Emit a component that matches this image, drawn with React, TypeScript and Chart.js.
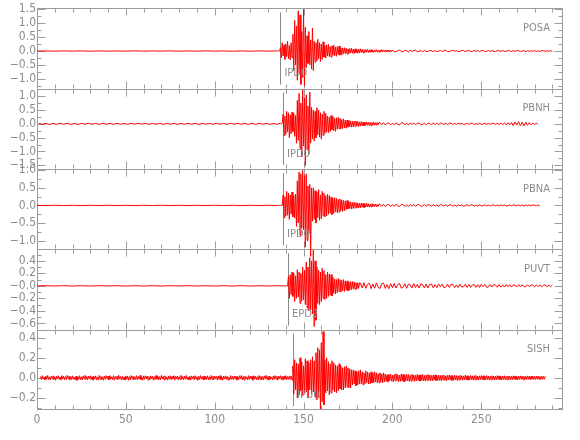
import { useEffect, useRef } from 'react';
import { Chart, registerables } from 'chart.js';

Chart.register(...registerables);

const stations = ['POSA', 'PBNH', 'PBNA', 'PUVT', 'SISH'];
const phaseLabels = ['IPD0', 'IPD0', 'IPD0', 'EPD2', 'IPU0'];
const pickTimes = [137.0, 138.5, 138.5, 141.3, 144.1];

const xMin = 0;
const xMax = 296;
const xTicks = [0, 50, 100, 150, 200, 250];
const xMinorStep = 10;

const yMins = [-1.35, -1.63, -1.25, -0.7, -0.32];
const yMaxs = [1.54, 1.275, 1.04, 0.585, 0.48];
const yTickValues = [
  [-1, -0.5, 0, 0.5, 1, 1.5],
  [-1.5, -1, -0.5, 0, 0.5, 1],
  [-1, -0.5, 0, 0.5, 1],
  [-0.6, -0.4, -0.2, 0, 0.2, 0.4],
  [-0.2, 0, 0.2, 0.4],
];
const yTickLabels = [
  ['\u22121.0', '\u22120.5', '0.0', '0.5', '1.0', '1.5'],
  ['\u22121.5', '\u22121.0', '\u22120.5', '0.0', '0.5', '1.0'],
  ['\u22121.0', '\u22120.5', '0.0', '0.5', '1.0'],
  ['\u22120.6', '\u22120.4', '\u22120.2', '\u22120.0', '0.2', '0.4'],
  ['\u22120.2', '0.0', '0.2', '0.4'],
];
const yMinorSteps = [0.25, 0.25, 0.25, 0.1, 0.1];

// ---------- POSA ----------
const posaPre = [0, 0.004, -0.005, 0.006, -0.004, 0.005, -0.006, 0.004, -0.005, 0.003, -0.004, 0.006, -0.005, 0.004, -0.003, 0.005, -0.006, 0.004, -0.005, 0.006, -0.004, 0.003, -0.005, 0.004, -0.006, 0.005, -0.004, 0.005];
const posaMain = [
  0.005, -0.004, 0.006,
  0.12, -0.25, 0.3, -0.18, 0.22, -0.3, 0.26, -0.2, 0.35, -0.28, 0.2, -0.32, 0.3, -0.24,
  0.6, -0.7, 1.1, -0.5, 0.9, -1.05, 1.45, -0.8, 1.3, -1.2, 0.7, -0.95, 1.5, -1.25, 0.85,
  -0.6, 0.55, -0.45, 0.7, -0.5, 0.4, -0.65, 0.83, -0.7,
  0.35, -0.4, 0.3, -0.35, 0.42, -0.28, 0.3, -0.38, 0.25, -0.3, 0.33, -0.22,
  0.2, -0.25, 0.22, -0.18, 0.24, -0.2, 0.16, -0.22, 0.19, -0.15, 0.21, -0.17, 0.14, -0.19, 0.16, -0.13, 0.18, -0.15, 0.12, -0.14,
  0.11, -0.1, 0.12, -0.09, 0.1, -0.11, 0.08, -0.1, 0.09, -0.07, 0.1, -0.08, 0.07, -0.09, 0.08, -0.06, 0.07, -0.08, 0.06, -0.07, 0.08, -0.05, 0.06, -0.07,
  0.05, -0.06, 0.05, -0.04, 0.06, -0.05, 0.04, -0.05, 0.05, -0.04, 0.03, -0.05, 0.04, -0.03, 0.05, -0.04, 0.03, -0.04, 0.04, -0.03, 0.05, -0.03, 0.04, -0.03, 0.03, -0.04, 0.03, -0.02, 0.04, -0.03, 0.03, -0.03,
];
const posaCoda = [
  0.03, -0.02, -0.028, 0.015, 0.03, -0.01, -0.025, 0.02, 0.012, -0.03, 0.025, -0.015, 0.02, 0.028, -0.022, -0.01, 0.018, -0.026, 0.024, -0.012,
  -0.02, 0.022, 0.01, -0.024, 0.02, -0.018, -0.008, 0.025, -0.02, 0.015, 0.022, -0.016, -0.024, 0.012, 0.02, -0.01, 0.018, -0.022, -0.012, 0.02,
  0.016, -0.02, 0.008, 0.022, -0.018, -0.015, 0.02, -0.01, 0.017, -0.021, 0.012, 0.018, -0.016, -0.01, 0.02, -0.018, 0.015, -0.008, -0.02, 0.016,
  0.01, -0.018, 0.02, -0.012, -0.016, 0.018, 0.008, -0.02, 0.015, -0.014, 0.01, 0.017, -0.015, -0.008, 0.016, -0.018, 0.012, -0.01, 0.014, -0.016,
  0.018, -0.012, 0.008, -0.015, 0.014, 0.01, -0.016, 0.012, -0.008, 0.015, -0.012,
];

// ---------- PBNH ----------
const pbnhPre = [
  0.02, -0.015, 0.018, -0.022, 0.012, -0.017, 0.021, -0.014, 0.016, -0.019, 0.013, -0.02, 0.017, -0.012, 0.019, -0.016, 0.014, -0.021, 0.018, -0.013,
  0.015, -0.018, 0.02, -0.014, 0.012, -0.017, 0.019, -0.015, 0.021, -0.012, 0.016, -0.019, 0.013, -0.016, 0.018, -0.02, 0.014, -0.013, 0.017, -0.018,
  0.012, -0.016, 0.02, -0.014, 0.015, -0.021, 0.018, -0.012, 0.016, -0.017, 0.019, -0.015, 0.013, -0.019, 0.021, -0.014, 0.017, -0.016, 0.012, -0.018,
  0.015, -0.02, 0.018, -0.013, 0.016, -0.019, 0.014, -0.017, 0.02,
];
const pbnhMain = [
  -0.01, 0.015,
  0.35, -0.42, 0.28, -0.38, 0.45, -0.3, 0.4, -0.5, 0.33, -0.36, 0.42, -0.28, 0.38, -0.45, 0.3,
  -0.7, 0.85, -0.6, 1.1, -0.9, 0.75, -1.2, 1.23, -0.8, 0.95, -1.51, 1.05, -0.9, 0.65, -1.1, 1.15, -0.7, 0.6,
  -0.55, 0.5, -0.62, 0.45, -0.5, 0.58, -0.4, 0.5, -0.48, 0.4, -0.55, 0.35, -0.42, 0.45, -0.35, 0.38,
  -0.3, 0.28, -0.32, 0.25, -0.28, 0.3, -0.22, 0.26, -0.25, 0.2, -0.27, 0.22, -0.2, 0.23, -0.18, 0.2, -0.19, 0.16, -0.17, 0.18, -0.15, 0.14, -0.16, 0.13,
  -0.12, 0.13, -0.11, 0.1, -0.12, 0.09, -0.11, 0.1, -0.09, 0.1, -0.08, 0.09, -0.1, 0.07, -0.08, 0.08, -0.07, 0.06, -0.08, 0.07, -0.06, 0.07, -0.05, 0.06, -0.06, 0.05, -0.07, 0.05, -0.05, 0.06, -0.05, 0.04, -0.05, 0.05, -0.04, 0.05,
];
const pbnhCoda = [
  0.045, -0.03, 0.04, -0.045, 0.02, 0.038, -0.04, 0.025, -0.035, 0.042, -0.02, -0.038, 0.03, 0.04, -0.035, 0.015, -0.04, 0.032, -0.028, 0.035,
  -0.03, 0.02, 0.034, -0.032, -0.02, 0.03, -0.035, 0.025, 0.012, -0.03, 0.032, -0.025, 0.02, -0.03, 0.028, 0.015, -0.028, 0.025, -0.03, 0.02,
  0.025, -0.028, 0.015, -0.025, 0.028, -0.012, 0.024, -0.026, -0.015, 0.025, -0.02, 0.022, 0.018, -0.025, 0.012, -0.022, 0.024, -0.018, -0.01, 0.022,
  -0.02, 0.018, -0.022, 0.012, 0.02, -0.02, 0.015, -0.022, 0.025, -0.03, 0.028, -0.035, 0.04, -0.032,
  0.05, -0.065, 0.07, -0.04, 0.075, -0.07, 0.055, -0.08, 0.06, -0.05, 0.045,
  -0.035, 0.025, -0.02, 0.018, -0.015,
];

// ---------- PBNA ----------
const pbnaPre = [0, -0.004, 0.005, -0.003, 0.004, -0.005, 0.003, -0.004, 0.005, -0.004, 0.003, -0.005, 0.004, -0.003, 0.005, -0.004, 0.004, -0.005, 0.003, -0.004, 0.005, -0.003, 0.004, -0.005, 0.004, -0.003, 0.005, -0.004];
const pbnaMain = [
  0.004, -0.005, 0.003, -0.004, 0.005, -0.006,
  0.3, -0.35, 0.25, -0.3, 0.4, -0.28, 0.35, -0.4, 0.3, -0.25, 0.38, -0.33, 0.28, -0.36, 0.32,
  -0.6, 0.7, -0.5, 0.95, -0.85, 0.9, -0.65, 1.0, -0.7, 0.85, -1.19, 0.9, -1.0, 0.55, -0.8, 0.6, -1.45, 0.5,
  -0.45, 0.5, -0.4, 0.42, -0.5, 0.38, -0.35, 0.45, -0.42, 0.3, -0.38, 0.4, -0.3, 0.35, -0.33, 0.28, -0.3, 0.32,
  -0.25, 0.28, -0.22, 0.24, -0.26, 0.2, -0.23, 0.22, -0.18, 0.2, -0.21, 0.17, -0.19, 0.18, -0.15, 0.16, -0.17, 0.14, -0.15, 0.13, -0.12, 0.14,
  -0.1, 0.11, -0.09, 0.1, -0.1, 0.08, -0.09, 0.09, -0.07, 0.08, -0.08, 0.07, -0.07, 0.06, -0.07, 0.07, -0.05, 0.06, -0.06, 0.05, -0.05, 0.06, -0.04, 0.05, -0.05, 0.04, -0.04, 0.05, -0.04, 0.04, -0.03, 0.04, -0.04, 0.03, -0.03, 0.04,
];
const pbnaCoda = [
  0.035, -0.025, 0.03, -0.035, 0.015, 0.03, -0.032, 0.02, -0.028, 0.034, -0.015, -0.03, 0.025, 0.03, -0.028, 0.012, -0.032, 0.026, -0.022, 0.028,
  -0.024, 0.016, 0.027, -0.026, -0.016, 0.024, -0.028, 0.02, 0.01, -0.024, 0.026, -0.02, 0.016, -0.024, 0.022, 0.012, -0.022, 0.02, -0.024, 0.016,
  0.02, -0.022, 0.012, -0.02, 0.022, -0.01, 0.019, -0.021, -0.012, 0.02, -0.016, 0.018, 0.014, -0.02, 0.01, -0.018, 0.019, -0.014, -0.008, 0.018,
  -0.016, 0.014, -0.018, 0.01, 0.016, -0.016, 0.012, -0.018, 0.015, -0.008, 0.017, -0.016, -0.012, 0.016, -0.012, 0.015, 0.008, -0.016, 0.014, -0.015,
  0.012, -0.014, 0.015, -0.01, 0.014, -0.015, 0.012, 0.008, -0.014, 0.015, -0.012,
];

// ---------- PUVT ----------
const puvtPre = [0, 0.003, -0.002, 0.003, -0.003, 0.002, -0.003, 0.003, -0.002, 0.003, -0.003, 0.002, -0.003, 0.002, -0.003, 0.003, -0.002, 0.003, -0.003, 0.002, -0.003, 0.003, -0.002, 0.003, -0.003, 0.002, -0.003, 0.003, -0.003];
const puvtMain = [
  0.003, -0.004,
  0.15, -0.2, 0.18, -0.14, 0.22, -0.17, 0.2, -0.25, 0.16, -0.2, 0.26, -0.18, 0.22, -0.28, 0.2, -0.24, 0.3, -0.22, 0.25,
  -0.3, 0.38, -0.35, 0.3, -0.4, 0.45, -0.38, 0.4, -0.45, 0.57, -0.65, 0.4, -0.55, 0.3,
  -0.28, 0.25, -0.3, 0.22, -0.25, 0.28, -0.2, 0.24, -0.22, 0.18, -0.2, 0.22, -0.17, 0.19, -0.15, 0.18, -0.16, 0.14,
  -0.12, 0.11, -0.13, 0.1, -0.11, 0.12, -0.09, 0.1, -0.1, 0.09, -0.08, 0.1, -0.09, 0.08, -0.07, 0.08, -0.08, 0.06, -0.07, 0.07, -0.06, 0.07, -0.05, 0.06, -0.06, 0.05, -0.05, 0.05, -0.04, 0.05,
];
const puvtCoda = [
  0.045, -0.035, 0.05, -0.04, 0.025, 0.042, -0.045, 0.03, -0.038, 0.048, -0.025, -0.042, 0.035, 0.044, -0.04, 0.02, -0.045, 0.036, -0.03, 0.04,
  -0.035, 0.022, 0.038, -0.036, -0.024, 0.034, -0.04, 0.028, 0.015, -0.034, 0.036, -0.028, 0.022, -0.034, 0.032, 0.018, -0.032, 0.028, -0.034, 0.024,
  0.03, -0.032, 0.018, -0.03, 0.032, -0.015, 0.028, -0.03, -0.018, 0.028, -0.024, 0.026, 0.02, -0.028, 0.015, -0.026, 0.027, -0.02, -0.012, 0.026,
  -0.024, 0.022, -0.026, 0.014, 0.024, -0.024, 0.018, -0.025, 0.022, -0.012, 0.024, -0.022, -0.018, 0.023, -0.018, 0.021, 0.012, -0.022, 0.02, -0.021,
  0.016, -0.02, 0.021, -0.014, 0.019, -0.02, 0.016, 0.01, -0.018, 0.02, -0.016, 0.018, -0.012, -0.016, 0.018, -0.014, 0.016, 0.008, -0.016, 0.017,
  -0.012, 0.014, -0.016, 0.01, 0.015, -0.014, 0.012, -0.015, 0.013,
];

// ---------- SISH ----------
const sishPre = [
  0.015, -0.018, 0.022, -0.01, 0.008, -0.02, 0.018, -0.014, 0.024, -0.016, 0.01, -0.022, 0.016, -0.008, 0.02, -0.019, 0.012, -0.024, 0.018, -0.011,
  0.021, -0.015, 0.009, -0.02, 0.023, -0.012, 0.016, -0.021, 0.011, -0.017, 0.024, -0.009, 0.018, -0.023, 0.014, -0.016, 0.02, -0.013, 0.008, -0.021,
  0.017, -0.024, 0.012, -0.015, 0.022, -0.018, 0.01, -0.02, 0.019, -0.011, 0.025, -0.016, 0.013, -0.022, 0.018, -0.009, 0.021, -0.017, 0.012, -0.023,
  0.016, -0.012, 0.02, -0.019, 0.009, -0.022, 0.024, -0.014, 0.015, -0.018, 0.011, -0.024, 0.019, -0.013, 0.022, -0.01, 0.017, -0.02, 0.023, -0.015,
  0.01, -0.017, 0.021, -0.023, 0.014, -0.011, 0.018, -0.02, 0.025, -0.012, 0.013, -0.021, 0.016, -0.018, 0.009, -0.022, 0.02, -0.014, 0.018, -0.024,
  0.012, -0.019, 0.023, -0.01, 0.017, -0.021, 0.011, -0.016, 0.022, -0.02, 0.014, -0.012, 0.024, -0.018, 0.01, -0.023, 0.019, -0.015, 0.021, -0.011,
  0.018, -0.022, 0.013, -0.019, 0.02, -0.009, 0.016, -0.024, 0.012, -0.017, 0.023, -0.014, 0.019, -0.02, 0.011, -0.018, 0.024, -0.012, 0.015, -0.021,
  0.02, -0.016, 0.01, -0.023, 0.017, -0.013, 0.022, -0.019, 0.014, -0.011, 0.021, -0.024, 0.016, -0.01, 0.019, -0.02, 0.012, -0.017, 0.025, -0.014,
  0.013, -0.021, 0.018, -0.012, 0.024, -0.016, 0.009, -0.02, 0.015, -0.023, 0.02, -0.011, 0.017, -0.019, 0.022, -0.013, 0.011, -0.024, 0.016, -0.018,
  0.023, -0.01, 0.014, -0.022, 0.019, -0.017, 0.012, -0.015, 0.021, -0.02, 0.01, -0.019, 0.024, -0.013, 0.016, -0.021, 0.018, -0.011, 0.013, -0.022,
  0.019, -0.014, 0.022, -0.018, 0.011, -0.024, 0.017, -0.012, 0.02, -0.016, 0.015, -0.021, 0.009, -0.019, 0.023, -0.015, 0.014, -0.02, 0.018, -0.01,
  0.016, -0.023, 0.012, -0.017, 0.021, -0.011, 0.024, -0.019, 0.013, -0.022, 0.018, -0.014, 0.01, -0.02, 0.022, -0.016, 0.019, -0.012, 0.015, -0.024,
  0.021, -0.013, 0.017, -0.02, 0.011, -0.018, 0.023, -0.015, 0.016, -0.021, 0.012, -0.019, 0.02, -0.01, 0.024, -0.017, 0.013, -0.022, 0.018, -0.014,
  0.01, -0.02, 0.019, -0.016, 0.022, -0.012, 0.015, -0.023, 0.018, -0.011, 0.021, -0.018, 0.014, -0.024, 0.017, -0.013, 0.023, -0.019, 0.012, -0.016,
  0.02, -0.015, 0.018, -0.022,
];
const sishMain = [
  0.12, -0.16, 0.18, -0.12, 0.15, -0.2, 0.14, -0.17, 0.2, -0.13, 0.16, -0.18, 0.12, -0.15, 0.19, -0.14, 0.17, -0.2, 0.15, -0.12, 0.18, -0.16, 0.21, -0.14, 0.17, -0.19,
  0.25, -0.22, 0.3, -0.2, 0.28, -0.31, 0.35, -0.24, 0.46, -0.27,
  0.18, -0.15, 0.2, -0.13, 0.16, -0.17, 0.14, -0.15, 0.17, -0.12, 0.15, -0.14, 0.13, -0.15, 0.12, -0.13, 0.14, -0.11, 0.12, -0.12, 0.1, -0.12, 0.11, -0.1, 0.12, -0.09, 0.1, -0.1, 0.09, -0.1,
  0.08, -0.07, 0.08, -0.06, 0.07, -0.08, 0.06, -0.07, 0.07, -0.06, 0.08, -0.06, 0.06, -0.07, 0.05, -0.06, 0.07, -0.05, 0.06, -0.06, 0.05, -0.06, 0.06, -0.05, 0.05, -0.05, 0.06, -0.04, 0.05, -0.05, 0.04, -0.05, 0.05, -0.04, 0.04, -0.05, 0.05, -0.04,
];
const sishCoda = [
  0.04, -0.035, 0.03, -0.042, 0.036, -0.028, 0.038, -0.033, 0.025, -0.04, 0.034, -0.03, 0.041, -0.026, 0.032, -0.038, 0.028, -0.035, 0.039, -0.031,
  0.035, -0.04, 0.027, -0.034, 0.037, -0.029, 0.033, -0.036, 0.024, -0.032, 0.036, -0.027, 0.03, -0.035, 0.026, -0.031, 0.034, -0.025, 0.029, -0.033,
  0.031, -0.027, 0.034, -0.03, 0.023, -0.032, 0.028, -0.026, 0.033, -0.024, 0.03, -0.029, 0.025, -0.031, 0.027, -0.022, 0.03, -0.028, 0.024, -0.027,
  0.028, -0.025, 0.022, -0.029, 0.026, -0.021, 0.027, -0.024, 0.02, -0.028, 0.025, -0.022, 0.029, -0.02, 0.024, -0.026, 0.021, -0.025, 0.027, -0.019,
  0.023, -0.026, 0.02, -0.022, 0.025, -0.018, 0.022, -0.024, 0.019, -0.021, 0.026, -0.02, 0.021, -0.023, 0.018, -0.022, 0.024, -0.017, 0.02, -0.023,
  0.022, -0.019, 0.024, -0.021, 0.017, -0.023, 0.02, -0.018, 0.022, -0.016, 0.021, -0.022, 0.018, -0.02, 0.023, -0.017, 0.019, -0.021, 0.016, -0.02,
  0.021, -0.018, 0.019, -0.022, 0.016, -0.019, 0.022, -0.015, 0.02, -0.019, 0.017, -0.021, 0.019, -0.016, 0.021, -0.018, 0.015, -0.02, 0.019, -0.017,
  0.018, -0.02, 0.016, -0.018, 0.02, -0.015, 0.019, -0.017, 0.014, -0.019, 0.018, -0.016, 0.02, -0.014, 0.017, -0.019, 0.016, -0.018, 0.015, -0.017,
  0.019, -0.015, 0.017, -0.018, 0.016, -0.014, 0.018, -0.016, 0.015, -0.017, 0.016, -0.015, 0.017, -0.014, 0.016, -0.016, 0.015, -0.015, 0.017, -0.014,
  0.015,
];

// segments: [start time (s), sample step (s), values]
type Segment = [number, number, number[]];
const traceSegments: Segment[][] = [
  [[0, 5, posaPre], [135.5, 0.5, posaMain], [200, 1, posaCoda]],
  [[1, 2, pbnhPre], [137.5, 0.5, pbnhMain], [193, 1, pbnhCoda]],
  [[0, 5, pbnaPre], [135.5, 0.5, pbnaMain], [193, 1, pbnaCoda]],
  [[0, 5, puvtPre], [140.5, 0.5, puvtMain], [182, 1, puvtCoda]],
  [[2, 0.5, sishPre], [144, 0.5, sishMain], [196, 0.5, sishCoda]],
];

const AXIS = '#9c9c9c';
const TEXT = '#8c8c8c';
const RED = '#ff0000';
const FONT = "'Liberation Sans Narrow', 'DejaVu Sans Condensed', 'Arial Narrow', sans-serif";

function buildPoints(segs: Segment[]) {
  const pts: { x: number; y: number }[] = [];
  segs.forEach(([t0, dt, vals]) => {
    vals.forEach((v, i) => pts.push({ x: t0 + i * dt, y: v }));
  });
  return pts;
}

const framePlugin = {
  id: 'seismoFrames',
  beforeDatasetsDraw(chart: any) {
    const { ctx, chartArea: ca } = chart;
    const xs = chart.scales.x;
    const left = Math.round(ca.left) + 0.5;
    const right = Math.round(ca.right) - 0.5;
    ctx.save();
    ctx.strokeStyle = AXIS;
    ctx.lineWidth = 1;
    ctx.beginPath();
    stations.forEach((_, i) => {
      const s = chart.scales['y' + i];
      const top = Math.round(s.top) + 0.5;
      const bot = Math.round(s.bottom) - 0.5;
      ctx.moveTo(left, top); ctx.lineTo(right, top);
      ctx.moveTo(left, top); ctx.lineTo(left, bot + 1);
      ctx.moveTo(right, top); ctx.lineTo(right, bot + 1);
      if (i === stations.length - 1) { ctx.moveTo(left, bot); ctx.lineTo(right, bot); }
      for (let v = xMin; v <= xMax; v += xMinorStep) {
        const px = Math.round(xs.getPixelForValue(v)) + 0.5;
        const len = v % 50 === 0 ? 7 : 4;
        ctx.moveTo(px, top); ctx.lineTo(px, top + len);
        ctx.moveTo(px, bot); ctx.lineTo(px, bot - len);
      }
      const step = yMinorSteps[i];
      const start = Math.ceil(yMins[i] / step - 1e-6) * step;
      for (let v = start; v <= yMaxs[i] + 1e-9; v += step) {
        const py = Math.round(s.getPixelForValue(v)) + 0.5;
        const major = yTickValues[i].some((t) => Math.abs(t - v) < 1e-6);
        const len = major ? 8 : 4;
        ctx.moveTo(left, py); ctx.lineTo(left + len, py);
        ctx.moveTo(right, py); ctx.lineTo(right - len, py);
      }
    });
    ctx.stroke();
    ctx.strokeStyle = '#8a8a8a';
    ctx.beginPath();
    stations.forEach((_, i) => {
      const s = chart.scales['y' + i];
      const px = Math.round(xs.getPixelForValue(pickTimes[i])) + 0.5;
      ctx.moveTo(px, s.top + 4);
      ctx.lineTo(px, s.bottom - 4);
    });
    ctx.stroke();
    ctx.restore();
  },
  afterDatasetsDraw(chart: any) {
    const { ctx, chartArea: ca } = chart;
    const xs = chart.scales.x;
    ctx.save();
    ctx.fillStyle = TEXT;
    ctx.font = `11px ${FONT}`;
    ctx.textBaseline = 'middle';
    stations.forEach((name, i) => {
      const s = chart.scales['y' + i];
      ctx.textAlign = 'right';
      ctx.fillText(name, ca.right - 13, s.top + 20);
      ctx.textAlign = 'left';
      const px = xs.getPixelForValue(pickTimes[i]);
      ctx.fillText(phaseLabels[i], px + 4, s.bottom - 15);
    });
    ctx.restore();
  },
};

export default function App() {
  const ref = useRef<HTMLCanvasElement | null>(null);

  useEffect(() => {
    if (!ref.current) return;
    const scales: any = {
      x: {
        type: 'linear',
        position: 'bottom',
        min: xMin,
        max: xMax,
        grid: { display: false, drawTicks: false },
        border: { display: false },
        afterBuildTicks: (s: any) => { s.ticks = xTicks.map((v) => ({ value: v })); },
        afterFit: (s: any) => { s.height = 30; },
        ticks: {
          color: TEXT,
          font: { family: FONT, size: 12 },
          padding: 3,
          maxRotation: 0,
          autoSkip: false,
          callback: (v: any) => String(v),
        },
      },
    };
    stations.forEach((_, i) => {
      scales['y' + i] = {
        type: 'linear',
        position: 'left',
        stack: 'traces',
        stackWeight: 1,
        weight: stations.length - i,
        min: yMins[i],
        max: yMaxs[i],
        grid: { display: false, drawTicks: false },
        border: { display: false },
        afterBuildTicks: (s: any) => { s.ticks = yTickValues[i].map((v) => ({ value: v })); },
        afterFit: (s: any) => { s.width = 37; },
        ticks: {
          color: TEXT,
          font: { family: FONT, size: 12 },
          padding: 1,
          autoSkip: false,
          callback: (_v: any, idx: number) => yTickLabels[i][idx],
        },
      };
    });

    const chart = new Chart(ref.current, {
      type: 'line',
      data: {
        datasets: stations.map((name, i) => ({
          label: name,
          data: buildPoints(traceSegments[i]),
          yAxisID: 'y' + i,
          borderColor: RED,
          borderWidth: 1,
          pointRadius: 0,
          tension: 0,
          fill: false,
          clip: false as any,
        })),
      },
      options: {
        animation: false,
        responsive: false,
        devicePixelRatio: 1,
        parsing: false,
        events: [],
        layout: { padding: { top: 5, right: 17, left: 0, bottom: 0 } },
        plugins: { legend: { display: false }, tooltip: { enabled: false }, title: { display: false } },
        scales,
      },
      plugins: [framePlugin],
    });
    return () => chart.destroy();
  }, []);

  return (
    <div style={{ position: 'fixed', left: 0, top: 0, width: 580, height: 440, background: '#fff' }}>
      <canvas ref={ref} width={580} height={440} />
    </div>
  );
}
